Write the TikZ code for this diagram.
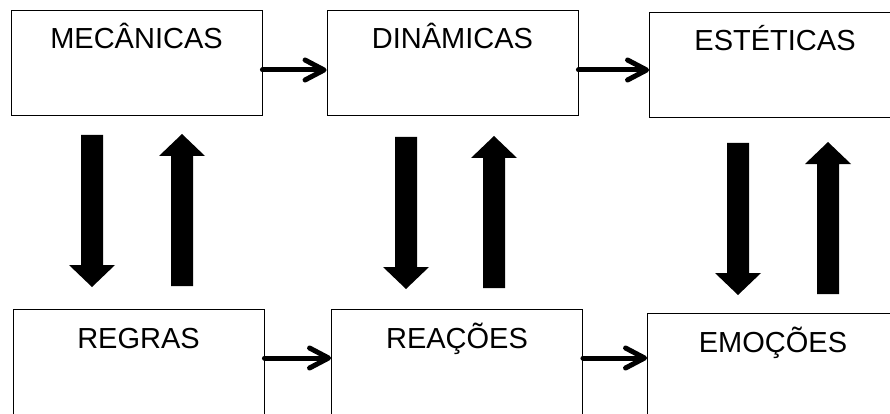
\documentclass[tikz,border=0pt]{standalone}
\usepackage{fontspec}
\setmainfont{Liberation Sans}
\usetikzlibrary{arrows.meta}
\begin{document}
\begin{tikzpicture}[x=1pt,y=-1pt,
  box/.style={draw=black, line width=0.9pt, rectangle, inner sep=0pt,
    minimum width=251pt, font=\fontsize{29}{34}\selectfont, text height=20pt},
  topbox/.style={box, minimum height=105pt, text depth=48pt},
  lowbox/.style={box, minimum height=120pt, text depth=62pt},
  flow/.style={line width=5pt, line cap=round,
    -{Straight Barb[length=19pt,width=20pt,round]}},
  blockarrow/.pic={
    \fill[black] (-11,0) -- (-11,130) -- (-23,130) -- (0,152)
      -- (23,130) -- (11,130) -- (11,0) -- cycle;
  }]
\useasboundingbox (0,0) rectangle (890,414);
\clip (0,0) rectangle (890,414);

% upper row
\node[topbox] (mec) at (136.5,62.5) {MECÂNICAS};
\node[topbox] (din) at (452.5,62.5) {DINÂMICAS};
\node[topbox] (est) at (775,64.5)   {ESTÉTICAS};

% lower row
\node[lowbox] (reg) at (138.5,369) {REGRAS};
\node[lowbox] (rea) at (457,369)   {REAÇÕES};
\node[lowbox] (emo) at (773,373)   {EMOÇÕES};

% horizontal flow
\draw[flow] (mec.east |- 0,70) -- (din.west |- 0,70);
\draw[flow] (din.east |- 0,70) -- (est.west |- 0,70);
\draw[flow] (reg.east |- 0,358) -- (rea.west |- 0,358);
\draw[flow] (rea.east |- 0,358) -- (emo.west |- 0,358);

% vertical block arrows between the rows
\pic at (92,135) {blockarrow};
\pic[yscale=-1] at (182,286) {blockarrow};
\pic at (406,137) {blockarrow};
\pic[yscale=-1] at (494,288) {blockarrow};
\pic at (738,143) {blockarrow};
\pic[yscale=-1] at (828,294) {blockarrow};
\end{tikzpicture}
\end{document}
